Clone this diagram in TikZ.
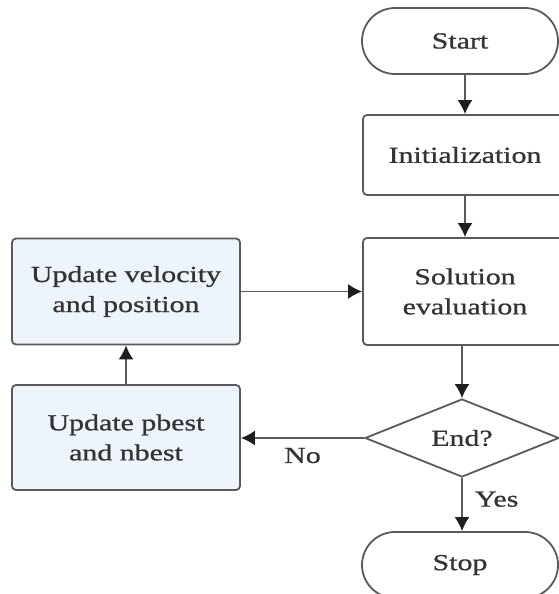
\documentclass[tikz,border=0pt]{standalone}
\usepackage{fontspec}
\setmainfont{Liberation Serif}[FakeStretch=1.3,FakeBold=0.8]
\usetikzlibrary{shapes.geometric,shapes.misc,arrows.meta}
\definecolor{linegray}{HTML}{5A5A5A}
\definecolor{headgray}{HTML}{1E1E1E}
\definecolor{textgray}{HTML}{333333}
\definecolor{boxblue}{HTML}{EEF4FB}
\tikzset{
  base/.style={draw=linegray, line width=1.8pt, text=textgray, align=center,
    font=\fontsize{23}{30}\selectfont, inner sep=0pt},
  term/.style={base, rounded rectangle, minimum width=196pt, minimum height=66pt},
  procbox/.style={base, rectangle, rounded corners=4pt, minimum width=204pt, minimum height=80pt, fill=white},
  bluebox/.style={base, rectangle, rounded corners=4pt, minimum width=228pt, minimum height=106pt, fill=boxblue},
  decide/.style={base, diamond, aspect=2.5, minimum width=194pt, minimum height=78pt},
  arr/.style={draw=linegray, line width=1.8pt, -{Latex[length=14pt,width=15pt,color=headgray]}},
  lbl/.style={text=textgray, font=\fontsize{23}{30}\selectfont, inner sep=0pt}
}
\begin{document}
\begin{tikzpicture}[x=1pt,y=-1pt]
\useasboundingbox (0,0) rectangle (559,594);
\clip (0,0) rectangle (559,594);
\fill[white] (0,0) rectangle (559,594);
\node[term] (start) at (460,41) {Start};
\node[procbox] (init) at (465,155) {Initialization};
\node[procbox, minimum height=107pt] (eval) at (465,291.5) {Solution\\evaluation};
\node[decide] (end) at (462,438) {End?};
\node[term] (stop) at (460,565) {Stop};
\node[bluebox] (vel) at (126,291.5) {Update velocity\\and position};
\node[bluebox, minimum height=105pt] (pb) at (126,437.5) {Update pbest\\and nbest};
\draw[arr] (start.south -| init.north) -- (init.north);
\draw[arr] (init) -- (eval);
\draw[arr] (eval.south -| end.north) -- (end.north);
\draw[arr] (end.south) -- (end.south |- stop.north) node[lbl, pos=0.4, right=12pt] (yes) {Yes};
\draw[arr] (end.west) -- (end.west -| pb.east) node[lbl, pos=0.5, below=9pt] (no) {No};
\draw[arr] (pb.north) -- (vel.south);
\draw[arr] (vel.east) -- (vel.east -| eval.west);
\end{tikzpicture}
\end{document}
